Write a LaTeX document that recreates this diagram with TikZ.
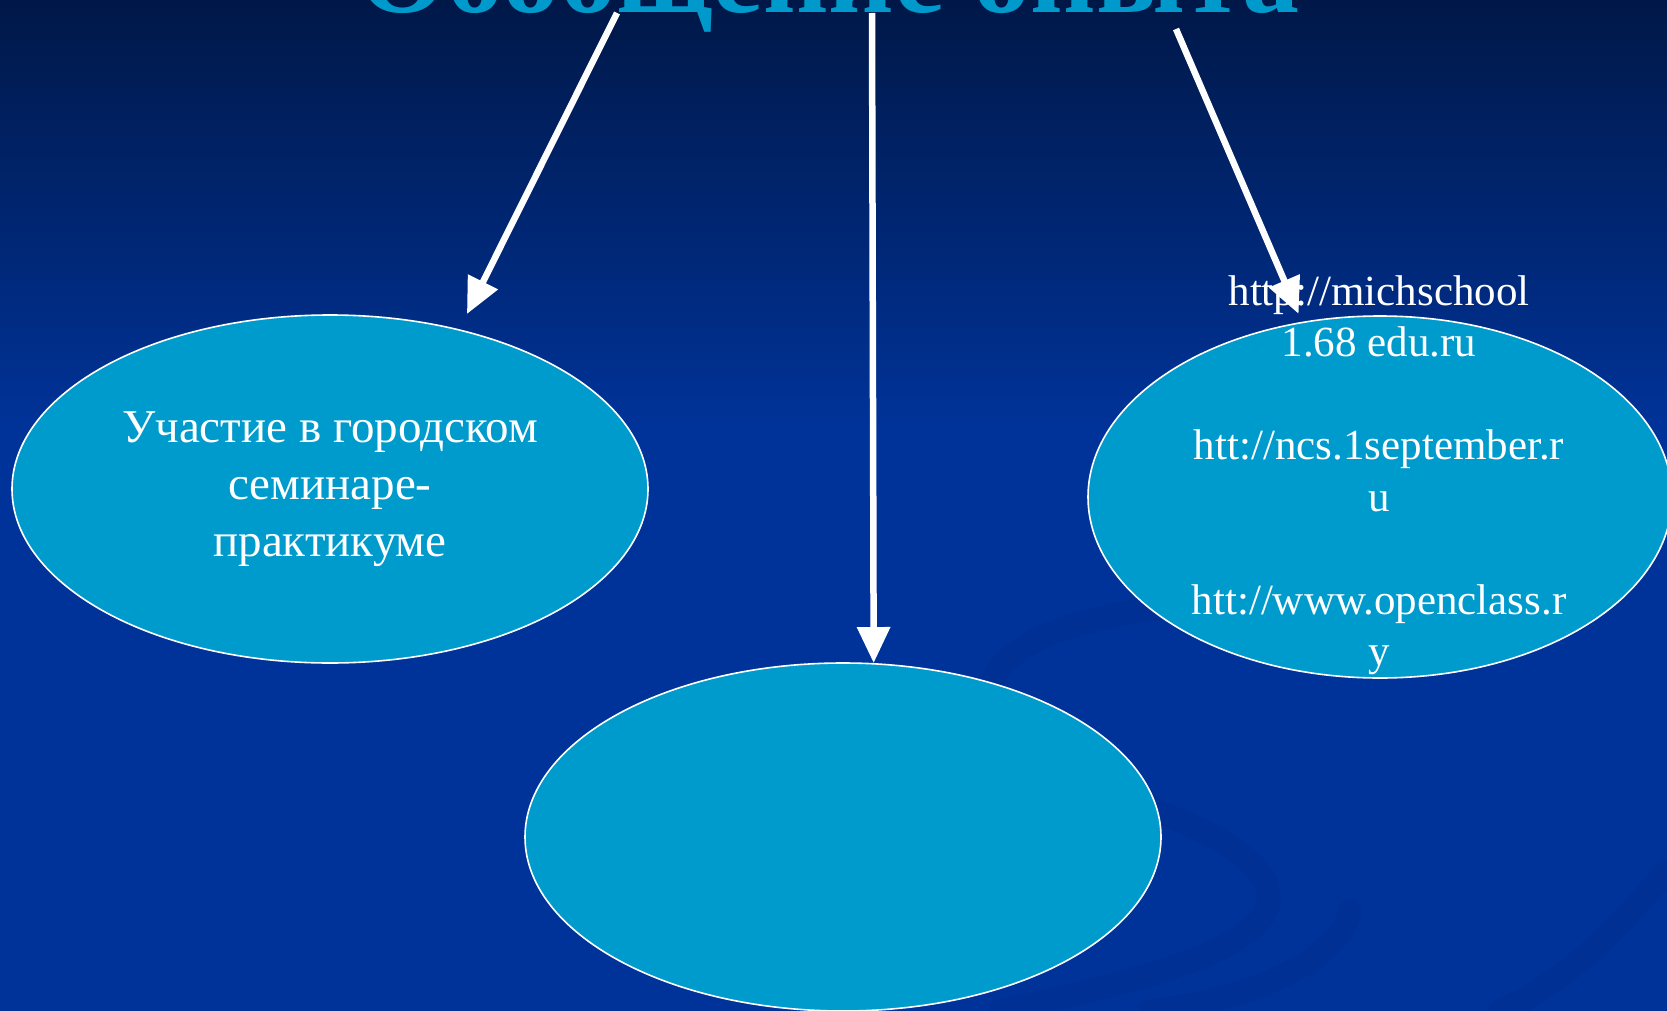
\documentclass[tikz,border=0pt]{standalone}
\usepackage{fontspec}
\setmainfont{Liberation Serif}
\usetikzlibrary{arrows.meta,shapes.geometric}
\definecolor{bgtop}{RGB}{0,24,72}
\definecolor{bgbottom}{RGB}{0,51,153}
\definecolor{swirl}{RGB}{0,42,135}
\definecolor{ovalfill}{RGB}{0,155,205}
\definecolor{titleblue}{RGB}{0,153,204}
\begin{document}
\begin{tikzpicture}
[x=1pt,y=-1pt,
  ovaldecorate/.style={shape=ellipse,inner sep=0pt,draw=white,line width=1.6pt,
    fill=ovalfill,text=white,align=center,font=\fontsize{47}{57}\selectfont},%
  linedecorate/.style={-{Triangle[length=36pt,width=32pt]},line width=6.5pt,white},%
  swirldecorate/.style={swirl,line width=24pt,opacity=0.3,line cap=round}]
%% background
\useasboundingbox (0,0) rectangle (1667,1011);
\shade[top color=bgtop,bottom color=bgbottom] (0,0) rectangle (1667,430);
\fill[bgbottom] (0,429) rectangle (1667,1011);
\draw[swirldecorate] (990,690) .. controls (1000,640) and (1080,610) .. (1250,600);
\draw[swirldecorate] (1090,790) .. controls (1200,820) and (1300,870) .. (1260,920)
  .. controls (1230,960) and (1100,990) .. (1000,1011);
\draw[swirldecorate] (1350,911) .. controls (1340,960) and (1250,1000) .. (1150,1011);
\draw[swirldecorate] (1667,870) .. controls (1600,950) and (1550,990) .. (1500,1011);
%% title
\node (title) at (829,13) [anchor=base,text=titleblue,font=\fontsize{114}{136}\selectfont\bfseries]
  {Обобщение опыта};
%% nodes or vertices
\foreach \nodename/\x/\y/\w/\h/\txt in {leftoval/330/489/636/348/{Участие в городском\\семинаре-\\практикуме},
    bottomoval/843/837/636/348/{}, rightoval/1380/497/584/362/{}} {
  \node (\nodename) at (\x,\y) [ovaldecorate,minimum width=\w pt,minimum height=\h pt] {\txt};
}
\node (righttext) at (1379,475) [text=white,align=center,font=\fontsize{43}{51.5}\selectfont]
  {http://michschool\\1.68 edu.ru\\\mbox{}\\htt://ncs.1september.r\\u\\\mbox{}\\htt://www.openclass.r\\y};
%% edges or lines
\foreach \nodename/\x/\y in {lefttail/617/13, midtail/872/13, righttail/1176/29} {
  \coordinate (\nodename) at (\x,\y);
}
\path
\foreach \startnode/\endnode/\gap in {lefttail/leftoval.51/17pt, midtail/bottomoval.80.5/0pt,
    righttail/rightoval.114.5/8.6pt} {
  (\startnode) edge[linedecorate,shorten >=\gap] (\endnode)
};
\end{tikzpicture}
\end{document}
